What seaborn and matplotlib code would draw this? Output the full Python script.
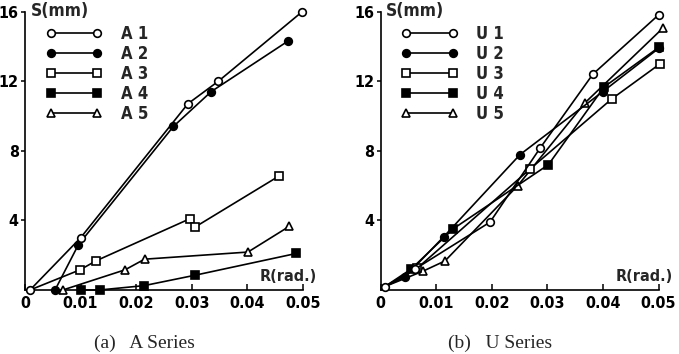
import numpy as np
import pandas as pd
import matplotlib
matplotlib.use("Agg")
import matplotlib.pyplot as plt
import seaborn as sns

sns.set_theme(style="ticks")
plt.rcParams['font.family'] = ['DejaVu Sans']
plt.rcParams['font.stretch'] = 'condensed'

# ---------------- data ----------------
a_names = ["A 1", "A 2", "A 3", "A 4", "A 5"]
a1_R = [0.0009, 0.0100, 0.0293, 0.0348, 0.0499]
a1_S = [0.0, 3.0, 10.7, 12.0, 16.0]
a2_R = [0.0054, 0.0096, 0.0267, 0.0335, 0.0473]
a2_S = [0.0, 2.6, 9.4, 11.4, 14.3]
a3_R = [0.0009, 0.0099, 0.0128, 0.0297, 0.0305, 0.0457]
a3_S = [0.0, 1.16, 1.68, 4.1, 3.6, 6.55]
a4_R = [0.0100, 0.0134, 0.0214, 0.0306, 0.0488]
a4_S = [0.0, 0.0, 0.25, 0.85, 2.1]
a5_R = [0.0068, 0.0180, 0.0215, 0.0401, 0.0475]
a5_S = [0.0, 1.16, 1.77, 2.18, 3.65]

u_names = ["U 1", "U 2", "U 3", "U 4", "U 5"]
u1_R = [0.0008, 0.0062, 0.0197, 0.0287, 0.0382, 0.0500]
u1_S = [0.2, 1.2, 3.9, 8.15, 12.4, 15.8]
u2_R = [0.0008, 0.0044, 0.0114, 0.0251, 0.0400, 0.0501]
u2_S = [0.2, 0.75, 3.07, 7.78, 11.4, 13.9]
u3_R = [0.0008, 0.0066, 0.0269, 0.0416, 0.0503]
u3_S = [0.2, 1.25, 6.95, 10.98, 13.0]
u4_R = [0.0008, 0.0055, 0.0131, 0.0302, 0.0402, 0.0501]
u4_S = [0.2, 1.2, 3.52, 7.2, 11.66, 13.95]
u5_R = [0.0008, 0.0077, 0.0116, 0.0247, 0.0367, 0.0508]
u5_S = [0.2, 1.09, 1.67, 6.0, 10.73, 15.05]

x_ticks = [0, 0.01, 0.02, 0.03, 0.04, 0.05]
x_ticklabels = ["0", "0.01", "0.02", "0.03", "0.04", "0.05"]
y_ticks = [4, 8, 12, 16]
y_ticklabels = ["4", "8", "12", "16"]

# marker styles: (marker, filled)
styles = [("o", False), ("o", True), ("s", False), ("s", True), ("^", False)]
msizes = [5.5, 5.5, 5.2, 5.2, 6.0]

fig = plt.figure(figsize=(6.79, 3.54), dpi=100)
axL = fig.add_axes([25/679, 64/354, 278/679, 278.5/354])
axR = fig.add_axes([380.5/679, 64/354, 278/679, 278.5/354])


def draw(ax, names, series, skip_first, caption):
    for i, (name, (R, S)) in enumerate(zip(names, series)):
        mk, filled = styles[i]
        df = pd.DataFrame({"R": R, "S": S})
        me = list(range(1, len(R))) if skip_first[i] else None
        sns.lineplot(data=df, x="R", y="S", ax=ax, sort=False, estimator=None,
                     color="black", lw=1.2, marker=mk, markersize=msizes[i],
                     markerfacecolor=("black" if filled else "white"),
                     markeredgecolor="black", markeredgewidth=1.2,
                     markevery=me, clip_on=False, label=name,
                     zorder=5 - i * 0.1 if i != 0 else 6)
    ax.set_xlim(0, 0.05)
    ax.set_ylim(0, 16)
    ax.set_xticks(x_ticks)
    ax.set_xticklabels(x_ticklabels, fontsize=11.5, fontweight="bold")
    ax.set_yticks(y_ticks)
    ax.set_yticklabels(y_ticklabels, fontsize=11.5, fontweight="bold")
    ax.tick_params(axis="x", direction="in", length=4, width=1.1, pad=4, colors="black")
    ax.tick_params(axis="y", direction="out", length=3, width=1.1, pad=1.5, colors="black")
    for s in ["top", "right"]:
        ax.spines[s].set_visible(False)
    for s in ["left", "bottom"]:
        ax.spines[s].set_linewidth(1.2)
        ax.spines[s].set_color("black")
    ax.set_xlabel("")
    ax.set_ylabel("")
    ax.text(0.02, 1.0, "S(mm)", transform=ax.transAxes, fontsize=12.5,
            fontweight="bold", ha="left", va="center")
    ax.text(1.05, 0.05, "R(rad.)", transform=ax.transAxes, fontsize=11.5,
            fontweight="bold", ha="right", va="center")
    ax.legend(loc="upper left", bbox_to_anchor=(0.05, 0.975), frameon=False,
              numpoints=2, handlelength=3.4, handletextpad=1.1,
              labelspacing=0.12, borderaxespad=0.0,
              prop={"weight": "bold", "size": 12, "stretch": "condensed"})
    ax.text(0.43, -0.19, caption, transform=ax.transAxes, fontsize=14,
            family="Liberation Serif", stretch="normal", ha="center", va="center")


draw(axL, a_names,
     [(a1_R, a1_S), (a2_R, a2_S), (a3_R, a3_S), (a4_R, a4_S), (a5_R, a5_S)],
     [False, False, True, False, False], "(a)   A Series")
draw(axR, u_names,
     [(u1_R, u1_S), (u2_R, u2_S), (u3_R, u3_S), (u4_R, u4_S), (u5_R, u5_S)],
     [False, True, True, True, True], "(b)   U Series")

fig.savefig("out.png", dpi=100)
